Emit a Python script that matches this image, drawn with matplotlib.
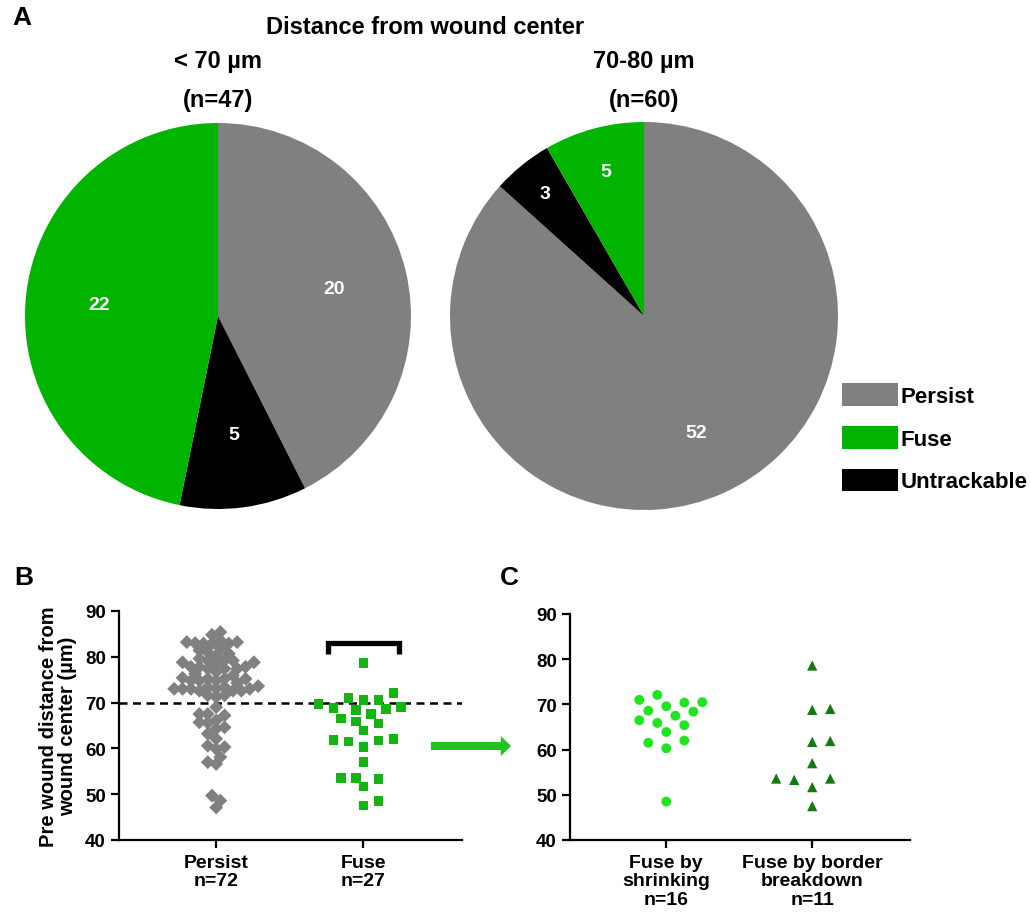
import numpy as np
import matplotlib
matplotlib.use("Agg")
import matplotlib.pyplot as plt
from matplotlib.patches import Patch, FancyArrowPatch

plt.rcParams['font.family'] = ['Liberation Sans', 'DejaVu Sans']
plt.rcParams['font.weight'] = 'bold'
plt.rcParams['axes.labelweight'] = 'bold'

# ---- data ----
pie_groups = ['< 70 µm\n(n=47)', '70-80 µm\n(n=60)']
outcomes = ['Persist', 'Untrackable', 'Fuse']
counts_lt70 = [20, 5, 22]
counts_70_80 = [52, 3, 5]
legend_order = ['Persist', 'Fuse', 'Untrackable']

persist = [85.4, 84.8,
           83.2, 82.9, 83.0, 82.9, 83.6, 83.2, 82.9,
           81.8, 81.4,
           81.0, 80.3, 80.7,
           79.2, 78.8, 79.2, 79.6, 79.2, 78.8,
           78.5, 77.8, 77.8, 77.8, 77.4, 77.4, 77.4,
           76.7, 76.3, 75.9, 75.4,
           75.2, 75.2, 74.8, 74.8, 75.2, 74.8, 74.3,
           73.0, 73.6, 73.0, 72.6, 73.4, 73.4, 73.0, 73.0, 72.6, 73.0, 72.6,
           71.6, 71.2, 71.6,
           69.0,
           67.5, 67.5, 67.2,
           65.7, 66.1, 65.6,
           64.3, 64.6,
           63.2,
           62.1,
           60.6, 60.3, 59.9,
           58.1,
           56.6, 57.0,
           49.7, 48.6,
           47.1]
fuse = [70.5, 71.0, 72.1, 70.5,
        68.8, 68.4, 69.7, 69.0, 68.6,
        65.9, 67.5, 66.5,
        65.4, 63.9,
        61.7, 61.9, 62.1, 61.5,
        60.3, 57.0,
        53.3, 53.6, 53.6, 51.7, 48.5, 47.5,
        78.6]
shrink = [72.1, 69.6, 70.4, 71.0, 68.6, 70.5,
          68.4, 67.5, 66.5, 65.4, 65.9,
          62.0, 63.9, 61.5, 60.3, 48.5]
border = [78.6, 69.0, 68.8, 61.7, 61.9, 57.0,
          53.6, 53.3, 51.7, 53.6, 47.5]
b_labels = ['Persist\nn=72', 'Fuse\nn=27']
c_labels = ['Fuse by\nshrinking\nn=16', 'Fuse by border\nbreakdown\nn=11']

GRAY = '#808080'
GREEN = '#00b400'
BLACK = '#000000'
pie_colors = {'Persist': GRAY, 'Untrackable': BLACK, 'Fuse': GREEN}


def beeswarm(ax, vals, min_px, step_px):
    # x offsets (data units) so that markers keep min_px apart on screen
    vals = np.asarray(vals, dtype=float)
    t = ax.transData
    p0 = t.transform((0, 0))
    sx = t.transform((1, 0))[0] - p0[0]
    sy = t.transform((0, 1))[1] - p0[1]
    off = np.zeros(len(vals))
    placed = []
    for n, i in enumerate(np.argsort(vals, kind='stable')):
        yp = vals[i] * sy
        found = None
        for k in range(0, 200):
            cands = [0] if k == 0 else ([k, -k] if n % 2 else [-k, k])
            for c in cands:
                xp = c * step_px
                if all((xp - a) ** 2 + (yp - b) ** 2 >= min_px ** 2 for a, b in placed):
                    found = xp
                    break
            if found is not None:
                break
        placed.append((found, yp))
        off[i] = found / sx
    return off


W, H = 1031, 920
fig = plt.figure(figsize=(W / 100, H / 100), dpi=100)


def box(l, t, w, h):
    return [l / W, 1 - (t + h) / H, w / W, h / H]


# ---- panel A: pies ----
pie_boxes = [box(25, 124, 386, 386), box(450, 123, 388, 388)]
label_r = [[0.62, 0.62, 0.62], [0.66, 0.81, 0.77]]
for i, counts in enumerate([counts_lt70, counts_70_80]):
    ax = fig.add_axes(pie_boxes[i])
    wedges, _ = ax.pie(counts, colors=[pie_colors[o] for o in outcomes],
                       startangle=90, counterclock=False,
                       wedgeprops=dict(linewidth=0))
    for w, c, r in zip(wedges, counts, label_r[i]):
        ang = np.deg2rad((w.theta1 + w.theta2) / 2)
        ax.text(r * np.cos(ang), r * np.sin(ang), str(c), color='white',
                ha='center', va='center', fontsize=14, fontweight='bold')
    ax.set_xlim(-1, 1)
    ax.set_ylim(-1, 1)
    ax.set_aspect('equal')

fig.text(425 / W, 1 - 27 / H, 'Distance from wound center', ha='center',
         va='center', fontsize=17)
for x, t in zip([218, 644], pie_groups):
    l1, l2 = t.split('\n')
    fig.text(x / W, 1 - 62 / H, l1, ha='center', va='center', fontsize=17)
    fig.text(x / W, 1 - 100 / H, l2, ha='center', va='center', fontsize=17)

handles = [Patch(facecolor=pie_colors[o], edgecolor='none') for o in legend_order]
fig.legend(handles, legend_order, loc='upper left',
           bbox_to_anchor=(842 / W, 1 - 384 / H), frameon=False,
           fontsize=16, handlelength=2.5, handleheight=1.2,
           handletextpad=0.15, labelspacing=0.85, borderpad=0,
           borderaxespad=0)

fig.text(12 / W, 1 - 18 / H, 'A', fontsize=19, va='center')
fig.text(14 / W, 1 - 578 / H, 'B', fontsize=19, va='center')
fig.text(500 / W, 1 - 578 / H, 'C', fontsize=19, va='center')


def style_axis(ax, labels):
    for s in ['top', 'right']:
        ax.spines[s].set_visible(False)
    for s in ['left', 'bottom']:
        ax.spines[s].set_linewidth(1.6)
    ax.set_ylim(40, 90)
    ax.set_yticks([40, 50, 60, 70, 80, 90])
    ax.set_xlim(-0.66, 1.67)
    ax.set_xticks([0, 1])
    ax.set_xticklabels(labels, fontsize=14, linespacing=1.12)
    ax.tick_params(axis='both', width=1.6, length=6, labelsize=13.5)
    ax.tick_params(axis='x', labelsize=14, pad=4)


# ---- panel B ----
axb = fig.add_axes(box(119, 612, 343, 229))
style_axis(axb, b_labels)
axb.axhline(70, color='black', linestyle=(0, (3.2, 2.2)), linewidth=1.8, zorder=1)
axb.scatter(0 + beeswarm(axb, persist, 7.8, 4.2), persist, marker='D', s=50,
            color=GRAY, edgecolors='none', zorder=3)
axb.scatter(1 + beeswarm(axb, fuse, 11, 7.5), fuse, marker='s', s=48,
            color='#14b414', edgecolors='none', zorder=3)
axb.plot([0.76, 0.76, 1.24, 1.24], [80.7, 83.1, 83.1, 80.7], color='black',
         linewidth=3.8, solid_joinstyle='miter', solid_capstyle='butt')
axb.set_ylabel('Pre wound distance from\nwound center (µm)', fontsize=14.5,
               linespacing=1.0, labelpad=6)

# ---- panel C ----
axc = fig.add_axes(box(570, 615, 340, 226))
style_axis(axc, c_labels)
axc.scatter(0 + beeswarm(axc, shrink, 12.5, 9), shrink, marker='o', s=50,
            color='#1ee61e', edgecolors='none', zorder=3)
axc.scatter(1 + beeswarm(axc, border, 15, 9), border, marker='^', s=55,
            color='#137a13', edgecolors='none', zorder=3)

# arrow between B and C
arr = FancyArrowPatch((431 / W, 1 - 747 / H), (511 / W, 1 - 747 / H),
                      transform=fig.transFigure, shrinkA=0, shrinkB=0,
                      arrowstyle='simple,head_length=0.52,head_width=1.03,tail_width=0.41',
                      mutation_scale=14, color='#1ec31e', linewidth=0)
fig.add_artist(arr)

fig.savefig('out.png', dpi=100)
